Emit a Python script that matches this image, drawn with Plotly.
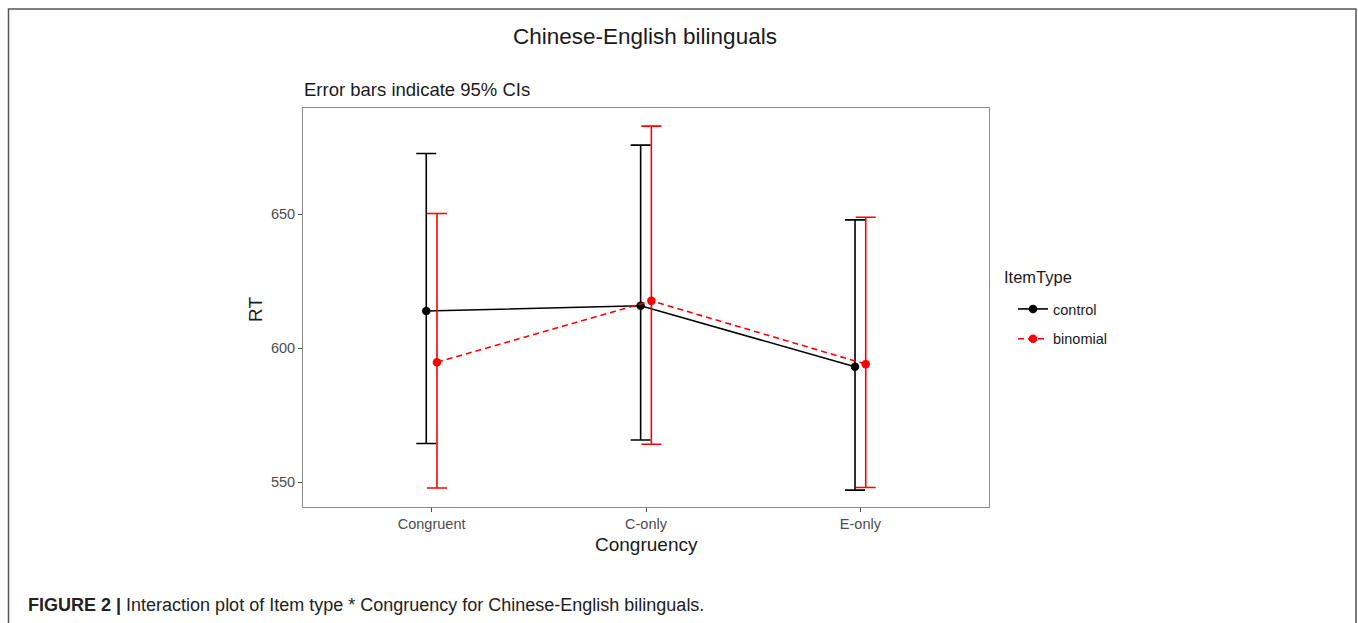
import plotly.graph_objects as go

# ---- data ----
categories = ["Congruent", "C-only", "E-only"]
control_rt = [613.8, 615.8, 593.0]
control_lo = [564.4, 565.7, 547.0]
control_hi = [672.6, 675.7, 647.8]
binomial_rt = [594.7, 617.6, 594.0]
binomial_lo = [547.8, 564.1, 548.0]
binomial_hi = [650.2, 682.8, 648.8]
y_ticks = [550, 600, 650]

W, H = 1358, 623
L, R, T, B = 303, 989, 108, 507
pw, ph = R - L, B - T

def px(xp):  # pixel x -> paper
    return (xp - L) / pw

def py(yp):  # pixel y -> paper
    return (B - yp) / ph

dodge = 0.025
pos = [i + 1 for i in range(len(categories))]

fig = go.Figure()

def add_series(name, mean, lo, hi, color, dash, off):
    fig.add_trace(go.Scatter(
        x=[p + off for p in pos], y=mean, name=name,
        mode="lines+markers",
        line=dict(color=color, width=1.6, dash=dash),
        marker=dict(color=color, size=8.5),
        error_y=dict(type="data", symmetric=False,
                     array=[h - m for h, m in zip(hi, mean)],
                     arrayminus=[m - l for m, l in zip(mean, lo)],
                     color=color, thickness=1.6, width=10),
        legendgroup=name,
    ))

add_series("control", control_rt, control_lo, control_hi, "black", "solid", -dodge)
add_series("binomial", binomial_rt, binomial_lo, binomial_hi, "#ff0000", "6px,4px", dodge)

tickfont = dict(family="Liberation Sans, Arial, sans-serif", size=14.5, color="#4d4d4d")
fig.update_xaxes(range=[0.4, 3.6], tickvals=pos, ticktext=categories,
                 showgrid=False, zeroline=False, showline=True, mirror=True,
                 linecolor="#8a8a8a", linewidth=1, ticks="outside", ticklen=4,
                 tickcolor="#4d4d4d", tickfont=tickfont)
fig.update_yaxes(range=[540.7, 689.55], tickvals=y_ticks,
                 showgrid=False, zeroline=False, showline=True, mirror=True,
                 linecolor="#8a8a8a", linewidth=1, ticks="outside", ticklen=4,
                 tickcolor="#4d4d4d", tickfont=tickfont)

font = "Liberation Sans, Arial, sans-serif"
ann = [
    dict(text="Chinese-English bilinguals", x=px(645), y=py(36), xanchor="center", yanchor="middle",
         font=dict(family=font, size=22.5, color="#1a1a1a")),
    dict(text="Error bars indicate 95% CIs", x=px(302), y=py(90), xanchor="left", yanchor="middle",
         font=dict(family=font, size=18.5, color="#1a1a1a")),
    dict(text="RT", x=px(255), y=py(310), xanchor="center", yanchor="middle", textangle=-90,
         font=dict(family=font, size=19, color="#1a1a1a")),
    dict(text="Congruency", x=px(646), y=py(544), xanchor="center", yanchor="middle",
         font=dict(family=font, size=19, color="#1a1a1a")),
    dict(text="ItemType", x=px(1002), y=py(277), xanchor="left", yanchor="middle",
         font=dict(family=font, size=16.5, color="#1a1a1a")),
    dict(text="<b>FIGURE 2 |</b> Interaction plot of Item type * Congruency for Chinese-English bilinguals.",
         x=px(26), y=py(605), xanchor="left", yanchor="middle",
         font=dict(family="Liberation Sans Narrow, Arial Narrow, sans-serif", size=18, color="#222222")),
]
for a in ann:
    a.update(xref="paper", yref="paper", showarrow=False)

fig.update_layout(
    width=W, height=H,
    margin=dict(l=L, r=W - R, t=T, b=H - B),
    plot_bgcolor="white", paper_bgcolor="white",
    annotations=ann,
    showlegend=True,
    legend=dict(x=px(1013), y=py(293), xanchor="left", yanchor="top",
                font=dict(family=font, size=14.5, color="#1a1a1a"),
                traceorder="grouped", tracegroupgap=8, bgcolor="rgba(0,0,0,0)"),
    shapes=[dict(type="rect", xref="paper", yref="paper",
                 x0=px(8.5), x1=px(1356), y0=py(640), y1=py(9),
                 line=dict(color="#555555", width=1.5), layer="below")],
)

fig.write_html("out.html")
